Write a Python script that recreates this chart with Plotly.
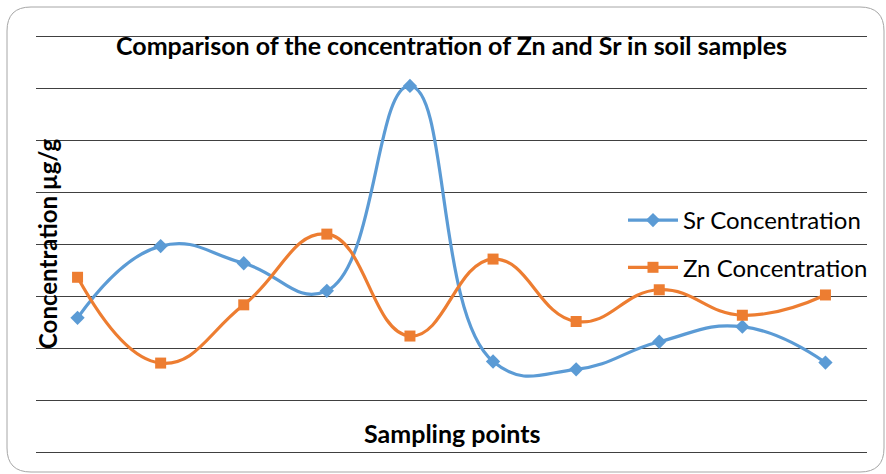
import plotly.graph_objects as go

categories = list(range(1, 11))
sr_values = [2.58, 3.96, 3.63, 3.10, 7.04, 1.74, 1.59, 2.12, 2.41, 1.72]
zn_values = [3.36, 1.71, 2.83, 4.19, 2.23, 3.71, 2.51, 3.12, 2.63, 3.02]
series_names = ["Sr Concentration", "Zn Concentration"]
grid_vals = list(range(0, 9))

W, H = 886, 474
# plot area chosen so gridline 8 sits at y=36 px and gridline 0 at y=452 px
L, R, T, B = 36, 19, 26, 12
pw, ph = W - L - R, H - T - B
unit = 52.0
ypad_top = (36 - T) / unit
ypad_bot = (H - B - 452) / unit

fig = go.Figure()
fig.add_trace(go.Scatter(
    x=categories, y=sr_values, name=series_names[0], mode="lines+markers",
    line=dict(color="#5B9BD5", width=3.2, shape="spline", smoothing=1.3),
    marker=dict(symbol="diamond", size=11, color="#5B9BD5"),
    legendgroup="a"))
fig.add_trace(go.Scatter(
    x=categories, y=zn_values, name=series_names[1], mode="lines+markers",
    line=dict(color="#ED7D31", width=3.2, shape="spline", smoothing=1.3),
    marker=dict(symbol="square", size=11, color="#ED7D31"),
    legendgroup="b"))

def px2x(p):
    return (p - L) / pw

def px2y(p):
    return (H - B - p) / ph

# rounded outer border
x0, x1, y0, y1, r = 7, 884, 7, 472, 24
path = (f"M {px2x(x0 + r)},{px2y(y0)} L {px2x(x1 - r)},{px2y(y0)} "
        f"Q {px2x(x1)},{px2y(y0)} {px2x(x1)},{px2y(y0 + r)} "
        f"L {px2x(x1)},{px2y(y1 - r)} Q {px2x(x1)},{px2y(y1)} {px2x(x1 - r)},{px2y(y1)} "
        f"L {px2x(x0 + r)},{px2y(y1)} Q {px2x(x0)},{px2y(y1)} {px2x(x0)},{px2y(y1 - r)} "
        f"L {px2x(x0)},{px2y(y0 + r)} Q {px2x(x0)},{px2y(y0)} {px2x(x0 + r)},{px2y(y0)} Z")
fig.add_shape(type="path", path=path, xref="paper", yref="paper",
              line=dict(color="#A6A6A6", width=1), layer="below")

font = "Lato, 'Open Sans', sans-serif"
fig.add_annotation(text="<b>Comparison of the concentration of Zn and Sr in soil samples</b>",
                   x=0.5, y=px2y(45), xref="paper", yref="paper", showarrow=False,
                   font=dict(size=25, color="black", family=font), yanchor="middle")
fig.add_annotation(text="<b>Sampling points</b>",
                   x=0.5, y=px2y(433), xref="paper", yref="paper", showarrow=False,
                   font=dict(size=25, color="black", family=font), yanchor="middle")
fig.add_annotation(text="<b>Concentration µg/g</b>", textangle=-90,
                   x=px2x(47), y=px2y(244), xref="paper", yref="paper", showarrow=False,
                   font=dict(size=24, color="black", family=font),
                   xanchor="center", yanchor="middle")

fig.update_layout(
    width=W, height=H, margin=dict(l=L, r=R, t=T, b=B),
    paper_bgcolor="white", plot_bgcolor="white",
    showlegend=True,
    legend=dict(x=px2x(623), y=px2y(198), xanchor="left", yanchor="top",
                font=dict(size=24, color="black", family=font),
                bgcolor="rgba(255,255,255,0)", tracegroupgap=13,
                traceorder="grouped", itemwidth=50),
    xaxis=dict(range=[0.5, 10.5], showgrid=False, zeroline=False, showline=False,
               showticklabels=False, ticks=""),
    yaxis=dict(range=[-ypad_bot, 8 + ypad_top], tickvals=grid_vals, showgrid=True,
               gridcolor="#404040", gridwidth=1,
               zeroline=False, showline=False, showticklabels=False, ticks=""),
)

fig.write_html("out.html", config={"displayModeBar": False},
               post_script="document.body.style.margin='0px';")
